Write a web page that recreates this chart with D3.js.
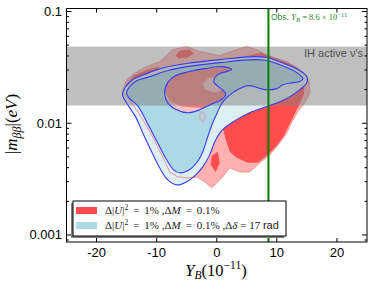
<!DOCTYPE html>
<html>
<head>
<meta charset="utf-8">
<script src="https://cdn.jsdelivr.net/npm/d3@7"></script>
<style>
body { margin: 0; background: #fff; }
svg { display: block; }
</style>
</head>
<body>
<div id="chart"></div>
<script>
// axis setup
var xDomain = [-25, 25];
var yDomain = [0.000865, 0.1064];
var xTicks = [-20, -10, 0, 10, 20];
var xTickLabels = ["-20", "-10", "0", "10", "20"];
var yTicks = [0.001, 0.01, 0.1];
var yTickLabels = ["0.001", "0.01", "0.1"];

// IH band and observed Y_B
var ihBand = [0.0144, 0.0485];
var obsYB = 8.6;

// contours: [Y_B, m_bb]
// red: dU^2 = 1%, dM = 0.1%
var red2 = [[-15.67,0.0192],[-15,0.0245],[-14,0.0272],[-12,0.0315],[-9.5,0.0356],[-8.17,0.0411],
  [-7.33,0.0456],[-5,0.0485],[-2.83,0.0438],[0.5,0.0403],[3.33,0.0456],[5,0.0485],[6.67,0.0456],
  [8.83,0.0395],[11.67,0.0356],[13.83,0.0302],[15.33,0.0245],[15.5,0.0188],[14.67,0.0153],
  [13.5,0.0127],[12.5,0.0103],[11.67,0.00822],[10.5,0.00668],[8.83,0.00521],[7.17,0.00443],
  [5.5,0.00367],[3.83,0.00367],[2.17,0.00399],[0.83,0.00324],[-0.83,0.00264],[-2,0.00299],
  [-3.33,0.00331],[-4.83,0.00324],[-6.5,0.00331],[-7.83,0.00367],[-9.17,0.00521],
  [-10.83,0.00788],[-12.5,0.0112],[-14.17,0.0153]];
var red1 = [[-8.5,0.0245],[-6.5,0.0284],[-2.83,0.0302],[0.83,0.0321],[4.67,0.0395],[7.5,0.0429],
  [10.5,0.0371],[13.5,0.0315],[14.67,0.0245],[14.5,0.0180],[13.5,0.0138],[12.33,0.0103],
  [11.17,0.00773],[9.83,0.00615],[8.5,0.00521],[6.83,0.00443],[5.17,0.00443],[3.33,0.00491],
  [2.17,0.00555],[1.5,0.00711],[1,0.00912],[0.33,0.0114],[-1.17,0.0135],[-3.67,0.0138],
  [-5.83,0.0141],[-7.83,0.0159],[-8.83,0.0200]];
var red1Hole = [[-2.33,0.0226],[-1.33,0.0256],[0.5,0.0261],[1.83,0.0236],[1.5,0.0200],[-0.5,0.0188],[-2,0.0200]];
var red1Left = [[-14.83,0.0226],[-13.83,0.0267],[-11.5,0.0302],[-9.5,0.0321],[-10.17,0.0278],[-12.33,0.0251],[-14.17,0.0212]];
var red1Top = [[-6.83,0.0403],[-6.17,0.0447],[-4.5,0.0456],[-3.83,0.0420],[-4.83,0.0387],[-6.33,0.0379]];
var red1Spot = [[-0.83,0.00511],[0.17,0.00555],[0.5,0.00443],[-0.17,0.00367],[-1,0.00425]];
var red2Drop = [[-2.5,0.0127],[-2,0.0119],[-2.33,0.0103],[-2.83,0.0112]];

// blue: dU^2 = 1%, dM = 0.1%, d delta = 17 rad
var blue2 = [[-15.67,0.0180],[-15.17,0.0212],[-14,0.0245],[-11.67,0.0278],[-8.67,0.0315],[-5,0.0342],
  [0.5,0.0371],[6.17,0.0395],[8.33,0.0387],[11.67,0.0335],[13.83,0.0296],[15,0.0261],[15,0.0231],
  [13.83,0.0200],[12.17,0.0173],[10.5,0.0156],[8.33,0.0141],[5.5,0.0124],[3,0.0105],[0.83,0.00857],
  [-0.33,0.00682],[-1.17,0.00521],[-2.33,0.00407],[-3.67,0.00338],[-5,0.00299],[-6.17,0.00281],
  [-7.17,0.00286],[-8.33,0.00318],[-9.5,0.00399],[-10.83,0.00555],[-12.17,0.00788],[-13.5,0.0114],
  [-14.83,0.0147]];
var blue1 = [[-15,0.0188],[-14.5,0.0212],[-13.33,0.0240],[-11.17,0.0261],[-8.17,0.0296],[-5,0.0321],
  [0.5,0.0349],[6.17,0.0371],[8.17,0.0364],[11.33,0.0321],[13.33,0.0284],[14.33,0.0251],[13.83,0.0236],
  [12.67,0.0231],[11,0.0221],[10,0.0204],[8,0.0200],[6.33,0.0212],[5.17,0.0217],[3.5,0.0200],
  [1.83,0.0173],[0.83,0.0150],[0.17,0.0127],[-0.67,0.0101],[-1.5,0.00757],[-2.33,0.00555],
  [-3.33,0.00443],[-4.83,0.00375],[-6.17,0.00360],[-7.17,0.00383],[-8.33,0.00471],[-9.83,0.00668],
  [-11.5,0.00991],[-13.17,0.0144],[-14.5,0.0166]];
var notch = [[1,0.0321],[-2,0.0308],[-4.5,0.0290],[-6.83,0.0267],[-8.17,0.0231],[-8.67,0.0184],
  [-8.17,0.0153],[-6.67,0.0132],[-4.83,0.0124],[-2.83,0.0132],[-0.67,0.0150],[0.83,0.0163],
  [1.5,0.0184],[0.5,0.0208],[-0.5,0.0236],[0.17,0.0272],[2.5,0.0302]];

var W = 374, H = 289;
var mg = {l: 66.5, r: 367, t: 8.5, b: 242};

var x = d3.scaleLinear().domain(xDomain).range([mg.l, mg.r]);
var y = d3.scaleLog().domain(yDomain).range([mg.b, mg.t]);

var svg = d3.select("#chart")
  .append("svg")
    .attr("width", W)
    .attr("height", H)
    .style("font-family", "'Liberation Sans', Arial, sans-serif");

svg.append("defs").append("clipPath").attr("id", "clip")
  .append("rect")
    .attr("x", mg.l).attr("y", mg.t)
    .attr("width", mg.r - mg.l).attr("height", mg.b - mg.t);

var plot = svg.append("g").attr("clip-path", "url(#clip)");

var rough = d3.line().x(function(d) { return x(d[0]); }).y(function(d) { return y(d[1]); })
  .curve(d3.curveLinearClosed);
var smooth = d3.line().x(function(d) { return x(d[0]); }).y(function(d) { return y(d[1]); })
  .curve(d3.curveCatmullRomClosed.alpha(0.5));

// red contours
plot.append("path").attr("d", rough(red2)).style("fill", "#ffb0b0");
plot.append("path").attr("d", rough(red1) + rough(red1Hole))
  .style("fill", "#ff4c4c").style("fill-rule", "evenodd");
[red1Left, red1Top, red1Spot].forEach(function(p) {
  plot.append("path").attr("d", rough(p)).style("fill", "#ff4c4c");
});

// blue contours (fills)
plot.append("path").attr("d", smooth(blue2) + smooth(notch))
  .style("fill", "#ddeef5").style("fill-rule", "evenodd");
plot.append("path").attr("d", smooth(blue1) + smooth(notch))
  .style("fill", "#add8e6").style("fill-rule", "evenodd");
plot.append("path").attr("d", smooth(notch)).style("fill", "#ddeef5").style("opacity", 0.3);

// red outlines show through
plot.append("path").attr("d", rough(red2))
  .style("fill", "none").style("stroke", "#f08a8a").style("stroke-width", 0.9);
plot.append("path").attr("d", smooth(red2Drop))
  .style("fill", "none").style("stroke", "#e89090").style("stroke-width", 0.9);

// IH band
plot.append("rect")
  .attr("x", mg.l).attr("width", mg.r - mg.l)
  .attr("y", y(ihBand[1])).attr("height", y(ihBand[0]) - y(ihBand[1]))
  .style("fill", "#808080").style("opacity", 0.5);

// blue outlines
plot.append("path").attr("d", smooth(blue2))
  .style("fill", "none").style("stroke", "#3a3af2").style("stroke-width", 1.1);
plot.append("path").attr("d", smooth(blue1) + smooth(notch))
  .style("fill", "none").style("stroke", "#3a3af2").style("stroke-width", 1.1);

// observed Y_B
plot.append("line")
  .attr("x1", x(obsYB)).attr("x2", x(obsYB))
  .attr("y1", mg.t).attr("y2", mg.b)
  .style("stroke", "#008000").style("stroke-width", 2);

// frame and ticks
var axes = svg.append("g").style("stroke", "#000").style("stroke-width", 1);
axes.append("rect")
  .attr("x", mg.l).attr("y", mg.t)
  .attr("width", mg.r - mg.l).attr("height", mg.b - mg.t)
  .style("fill", "none");
xTicks.forEach(function(t) {
  axes.append("line").attr("x1", x(t)).attr("x2", x(t)).attr("y1", mg.b).attr("y2", mg.b - 4);
  axes.append("line").attr("x1", x(t)).attr("x2", x(t)).attr("y1", mg.t).attr("y2", mg.t + 4);
});
y.ticks().forEach(function(t) {
  var major = yTicks.some(function(v) { return Math.abs(v - t) / v < 1e-6; });
  var len = major ? 5 : 2.5;
  axes.append("line").attr("x1", mg.l).attr("x2", mg.l + len).attr("y1", y(t)).attr("y2", y(t));
  axes.append("line").attr("x1", mg.r).attr("x2", mg.r - len).attr("y1", y(t)).attr("y2", y(t));
});

svg.selectAll(".xtl")
  .data(xTicks)
  .enter()
  .append("text")
    .attr("x", function(d) { return x(d); })
    .attr("y", 257)
    .attr("text-anchor", "middle")
    .style("font-size", "13px")
    .text(function(d, i) { return xTickLabels[i]; });

svg.selectAll(".ytl")
  .data(yTicks)
  .enter()
  .append("text")
    .attr("x", 62)
    .attr("y", function(d) { return y(d) + 4.5; })
    .attr("text-anchor", "end")
    .style("font-size", "13px")
    .text(function(d, i) { return yTickLabels[i]; });

// axis labels
var serif = "'Liberation Serif', 'DejaVu Serif', serif";
var xl = svg.append("text")
  .attr("x", 216).attr("y", 276)
  .attr("text-anchor", "middle")
  .style("font-family", serif).style("font-size", "16.5px");
xl.append("tspan").style("font-style", "italic").text("Y");
xl.append("tspan").style("font-style", "italic").style("font-size", "11.5px").attr("dy", 3).text("B");
xl.append("tspan").attr("dy", -3).text("(10");
xl.append("tspan").style("font-size", "11.5px").attr("dy", -7).text("\u221211");
xl.append("tspan").attr("dy", 7).text(")");

var yl = svg.append("text")
  .attr("transform", "translate(17,124) rotate(-90)")
  .attr("text-anchor", "middle")
  .style("font-family", serif).style("font-size", "17px");
yl.append("tspan").text("|");
yl.append("tspan").style("font-style", "italic").text("m");
yl.append("tspan").style("font-style", "italic").style("font-size", "12px").attr("dy", 3.5).text("\u03b2\u03b2");
yl.append("tspan").attr("dy", -3.5).text("|(");
yl.append("tspan").style("font-style", "italic").text("eV");
yl.append("tspan").text(")");

// band and line annotations
svg.append("text")
  .attr("x", 363).attr("y", 57)
  .attr("text-anchor", "end")
  .style("font-size", "11px").style("fill", "#505050")
  .text("IH active \u03bd's");

var ob = svg.append("text")
  .attr("x", 271).attr("y", 20)
  .style("font-size", "8.5px").style("fill", "#2a8a2a");
ob.append("tspan").text("Obs. ");
ob.append("tspan").style("font-family", serif).style("font-style", "italic").text("Y");
ob.append("tspan").style("font-family", serif).style("font-style", "italic").style("font-size", "6.5px").attr("dy", 2).text("B");
ob.append("tspan").style("font-family", serif).attr("dy", -2).text(" = 8.6 \u00d7 10");
ob.append("tspan").style("font-family", serif).style("font-size", "6.5px").attr("dy", -3.5).text("\u221211");

// legend
var lg = svg.append("g");
lg.append("rect").attr("x", 71).attr("y", 203).attr("width", 213).attr("height", 35)
  .style("fill", "#808080");
lg.append("rect").attr("x", 73).attr("y", 201).attr("width", 213).attr("height", 35)
  .style("fill", "#fff").style("stroke", "#000").style("stroke-width", 1);
lg.append("rect").attr("x", 76).attr("y", 207).attr("width", 21).attr("height", 7).style("fill", "#ff4c4c");
lg.append("rect").attr("x", 76).attr("y", 222).attr("width", 21).attr("height", 7).style("fill", "#add8e6");

function legendText(yy, extra) {
  var t = lg.append("text").attr("x", 105).attr("y", yy)
    .style("font-family", serif).style("font-size", "11px").style("fill", "#222")
    .attr("xml:space", "preserve");
  t.append("tspan").text("\u0394|");
  t.append("tspan").style("font-style", "italic").text("U");
  t.append("tspan").text("|");
  t.append("tspan").style("font-size", "7.5px").attr("dy", -4.5).text("2");
  t.append("tspan").attr("dy", 4.5).text(" \u2009= \u20091% ,\u0394");
  t.append("tspan").style("font-style", "italic").text("M");
  t.append("tspan").text(" \u2009= \u20090.1%");
  if (extra) {
    t.append("tspan").text(" ,\u0394");
    t.append("tspan").style("font-style", "italic").text("\u03b4");
    t.append("tspan").text(" = 17 ");
    t.append("tspan").style("font-family", "'Liberation Sans', Arial, sans-serif").text("rad");
  }
}
legendText(214, false);
legendText(229, true);
</script>
</body>
</html>
